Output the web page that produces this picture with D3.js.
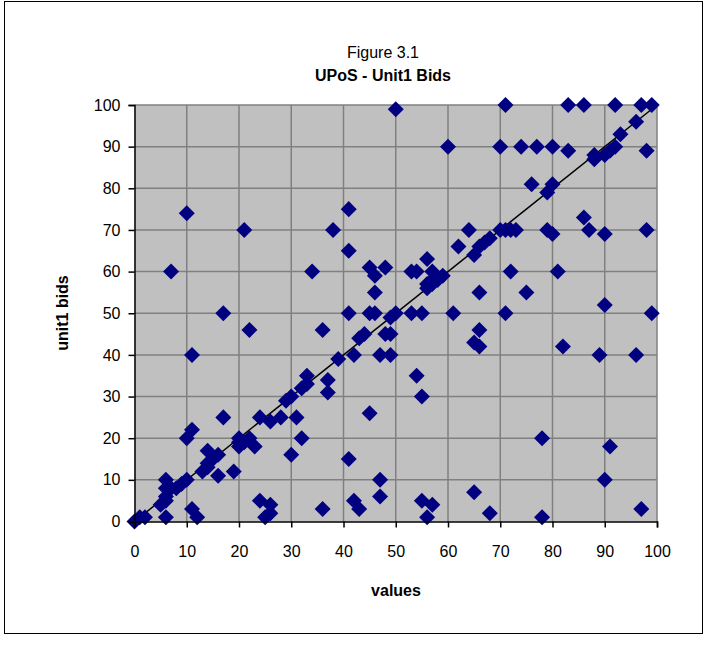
<!DOCTYPE html>
<html><head><meta charset="utf-8">
<script src="https://cdn.jsdelivr.net/npm/d3@7"></script>
<style>html,body{margin:0;padding:0;background:#fff;}svg{display:block;font-family:Arial,"Liberation Sans",sans-serif;}</style>
</head><body>
<script>
const xValues = [0,1,2,6,5,6,6,6,6,7,8,9,10,11,12,10,11,7,10,11,13,14,14,15,16,14,16,17,17,19,20,20,20,21,22,23,21,22,24,26,25,26,24,26,28,29,30,30,31,32,32,33,33,34,36,36,37,37,38,39,41,41,41,41,42,42,43,43,44,45,45,45,46,46,46,47,47,47,48,48,49,49,49,50,50,53,53,54,54,55,55,55,56,57,56,56,56,57,57,58,59,57,60,61,62,64,65,65,65,66,66,66,66,67,68,68,70,71,72,73,70,71,71,72,74,75,76,77,78,78,79,79,80,80,80,81,82,83,83,86,86,87,88,88,89,90,90,90,90,91,91,92,92,93,96,96,97,97,98,98,99,99];
const yValues = [0,1,1,1,4,5,6,8,10,8,8,9,10,3,1,20,22,60,74,40,12,13,14,15,16,17,11,25,50,12,18,19,20,19,20,18,70,46,5,4,1,2,25,24,25,29,30,16,25,20,32,33,35,60,46,3,31,34,70,39,75,65,50,15,40,5,3,44,45,26,50,61,50,55,59,40,10,6,45,61,45,40,49,50,99,50,60,60,35,30,50,5,1,4,63,56,57,57,58,58,59,60,90,50,66,70,64,43,7,42,46,55,66,67,68,2,70,70,70,70,90,100,50,60,90,55,81,90,20,1,79,70,69,81,90,60,42,89,100,100,73,70,87,88,40,88,69,52,10,89,18,90,100,93,96,40,3,100,89,70,100,50];
const xTicks = [0,10,20,30,40,50,60,70,80,90,100];
const yTicks = [0,10,20,30,40,50,60,70,80,90,100];
const refLine = [[0,0],[100,100]];

const W = 704, H = 645;
const svg = d3.select("body").append("svg").attr("width", W).attr("height", H);
svg.append("rect").attr("x",4.5).attr("y",1.5).attr("width",698).attr("height",632)
  .attr("fill","#fff").attr("stroke","#000").attr("stroke-width",1);

const L = 134.5, R = 657, T = 105, B = 521.5;
const x = d3.scaleLinear().domain([0,100]).range([L,R]);
const y = d3.scaleLinear().domain([0,100]).range([B,T]);

svg.append("rect").attr("x",L).attr("y",T).attr("width",R-L).attr("height",B-T).attr("fill","#c0c0c0");
const g = svg.append("g");
g.selectAll("line.gx").data(xTicks.slice(1)).join("line")
  .attr("x1",d=>x(d)).attr("x2",d=>x(d)).attr("y1",T).attr("y2",B)
  .attr("stroke","#808080").attr("stroke-width",1.5);
g.selectAll("line.gy").data(yTicks.slice(1)).join("line")
  .attr("y1",d=>y(d)).attr("y2",d=>y(d)).attr("x1",L).attr("x2",R)
  .attr("stroke","#808080").attr("stroke-width",1.5);

svg.append("line").attr("x1",x(refLine[0][0])).attr("y1",y(refLine[0][1]))
  .attr("x2",x(refLine[1][0])).attr("y2",y(refLine[1][1]))
  .attr("stroke","#000").attr("stroke-width",1.5);

const diamond = d3.symbol().type(d3.symbolSquare).size(128);
svg.append("g").selectAll("path").data(xValues.map((v,i)=>[v,yValues[i]])).join("path")
  .attr("d", diamond)
  .attr("transform", d=>`translate(${x(d[0])},${y(d[1])}) rotate(45)`)
  .attr("fill","#000080");

const xAxis = d3.axisBottom(x).tickValues(xTicks).tickSize(6).tickPadding(18);
const gx = svg.append("g").attr("transform",`translate(0,${B})`).call(xAxis);
const yAxis = d3.axisLeft(y).tickValues(yTicks).tickSize(6).tickPadding(8);
const gy = svg.append("g").attr("transform",`translate(${L},0)`).call(yAxis);
[gx,gy].forEach(a=>{
  a.selectAll("text").attr("font-size",16).attr("font-family","Arial, 'Liberation Sans', sans-serif").attr("fill","#000");
  a.select(".domain").attr("stroke","#000").attr("stroke-width",1.5);
  a.selectAll(".tick line").attr("stroke","#000").attr("stroke-width",1.5);
});

svg.append("text").attr("x",383).attr("y",58).attr("text-anchor","middle").attr("font-size",16).text("Figure 3.1");
svg.append("text").attr("x",383).attr("y",81).attr("text-anchor","middle").attr("font-size",16).attr("font-weight","bold").text("UPoS - Unit1 Bids");
svg.append("text").attr("x",396).attr("y",596).attr("text-anchor","middle").attr("font-size",16).attr("font-weight","bold").text("values");
svg.append("text").attr("transform","translate(68,313) rotate(-90)").attr("text-anchor","middle").attr("font-size",16).attr("font-weight","bold").text("unit1 bids");
</script>
</body></html>
